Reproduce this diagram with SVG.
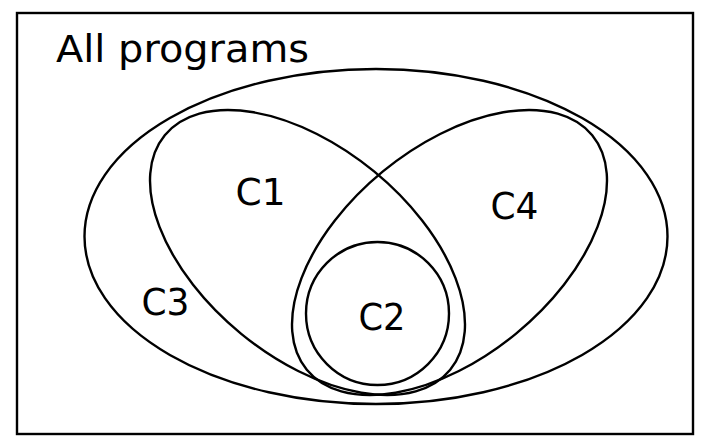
<svg xmlns="http://www.w3.org/2000/svg" width="707" height="443" viewBox="0 0 707 443">
<style>
.s{fill:none;stroke:#000;stroke-width:2.4}
.t{font-family:"DejaVu Sans",Verdana,sans-serif;font-size:37px;fill:#000}
</style>
<rect width="707" height="443" fill="#fff"/>
<g id="all">
<rect class="s" x="17" y="13" width="676" height="421" stroke-width="2"/>
<text class="t" x="56" y="62" textLength="253" lengthAdjust="spacingAndGlyphs">All programs</text>
</g>
<g id="C3">
<ellipse class="s" cx="376" cy="236.5" rx="291.5" ry="167.5"/>
<text class="t" x="141.5" y="315" textLength="48" lengthAdjust="spacingAndGlyphs">C3</text>
</g>
<g id="C1">
<ellipse class="s" cx="307.5" cy="252.5" rx="184.7" ry="104.9" transform="rotate(39.4 307.5 252.5)"/>
<text class="t" x="235.5" y="205" textLength="50" lengthAdjust="spacingAndGlyphs">C1</text>
</g>
<g id="C4">
<ellipse class="s" cx="449.5" cy="252.5" rx="184.7" ry="104.9" transform="rotate(-39.4 449.5 252.5)"/>
<text class="t" x="490.5" y="219" textLength="48" lengthAdjust="spacingAndGlyphs">C4</text>
</g>
<g id="C2">
<circle class="s" cx="377.5" cy="313.5" r="71.5"/>
<text class="t" x="358.5" y="330" textLength="47" lengthAdjust="spacingAndGlyphs">C2</text>
</g>
<g id="connectors"/>
</svg>
